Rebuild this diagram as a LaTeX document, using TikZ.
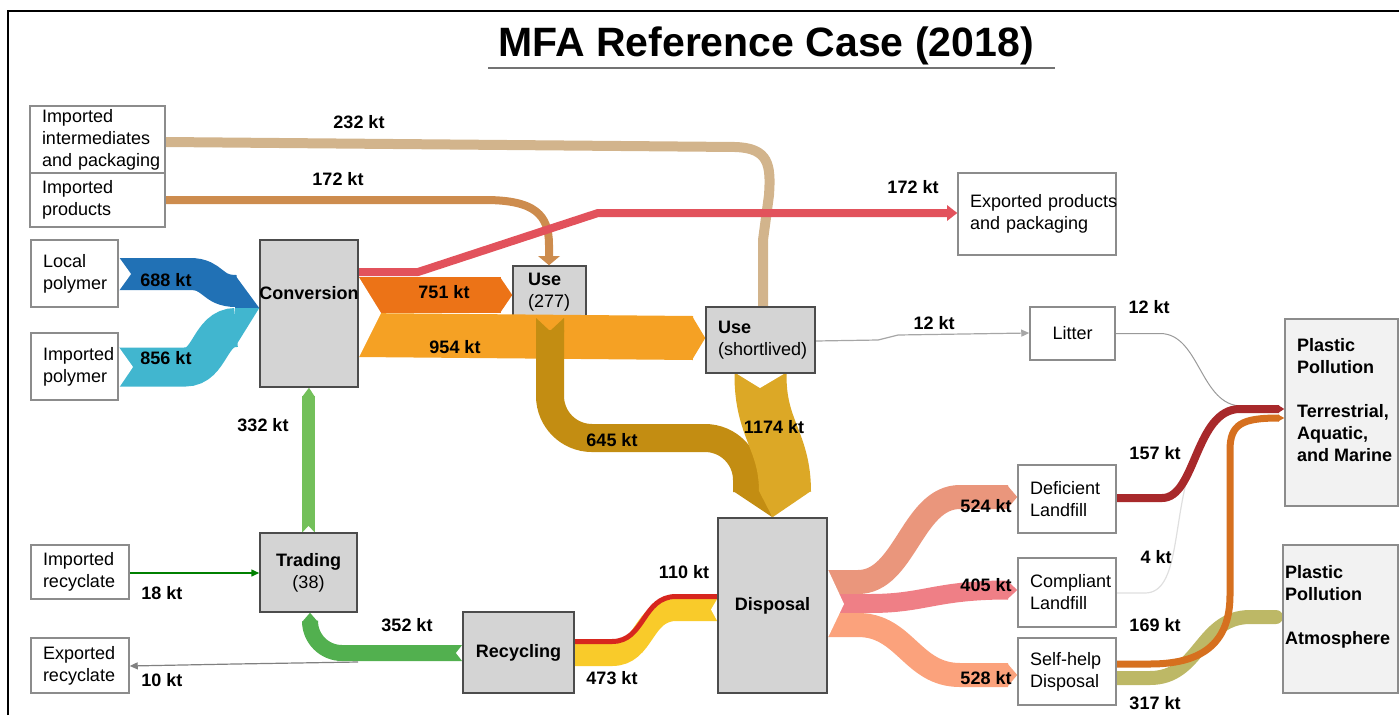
\documentclass[tikz,border=0pt]{standalone}
\usepackage{fontspec}
\setmainfont{Liberation Sans}
\usepackage{xcolor}
\usetikzlibrary{arrows.meta}
\usetikzlibrary{positioning}
\pgfdeclarelayer{bands}
\pgfsetlayers{bands,main}
\definecolor{procgray}{HTML}{D4D4D4}
\definecolor{polyblue}{HTML}{2171B5}
\definecolor{polycyan}{HTML}{41B6CF}
\definecolor{tan232}{HTML}{D2B48C}
\definecolor{peru172}{HTML}{CD8C4E}
\definecolor{red172}{HTML}{E2525C}
\definecolor{orange751}{HTML}{EC7317}
\definecolor{orange954}{HTML}{F5A124}
\definecolor{gold645}{HTML}{C38D12}
\definecolor{gold1174}{HTML}{DCA826}
\definecolor{salm524}{HTML}{EA967C}
\definecolor{pink405}{HTML}{EF7F86}
\definecolor{lsalm528}{HTML}{FBA27C}
\definecolor{yell473}{HTML}{F9CB2A}
\definecolor{red110}{HTML}{D7261E}
\definecolor{green352}{HTML}{52B04F}
\definecolor{green332}{HTML}{73C05A}
\definecolor{dred157}{HTML}{A8292B}
\definecolor{orange169}{HTML}{D6701F}
\definecolor{olive317}{HTML}{BDB866}

\begin{document}
\begin{tikzpicture}[x={(1pt,0)},y={(0,-1pt)},
  wbox/.style={draw=black!45,fill=white,line width=1.5pt,align=left,inner sep=0pt,font=\fontsize{18}{22}\selectfont},
  lbox/.style={wbox,inner xsep=12pt,text width=#1},
  gbox/.style={wbox,draw=black!70,fill=procgray},
  pbox/.style={wbox,fill=black!5},
  ptxt/.style={anchor=north west,inner sep=0pt,align=left,font=\bfseries\fontsize{18}{22}\selectfont},
  kt/.style={font=\bfseries\fontsize{18}{22}\selectfont,inner sep=1pt},
  band/.style={line width=#1pt,line cap=butt}]
\useasboundingbox (0,0) rectangle (1399,715);
\draw[line width=2pt] (8,715) -- (8,11) -- (1399,11);
\node[font=\bfseries\fontsize{41}{48}\selectfont,anchor=base] (title) at (766,56) {MFA Reference Case (2018)};
\draw[black!55,line width=2pt] (488,68) -- (1055,68);

% sources
\node[lbox=111,minimum height=67] (impint) at (97.5,139.5) {Imported\\intermediates\\\mbox{and packaging}};
\node[lbox=111,minimum height=54] (impprod) at (97.5,200) {Imported\\products};
\node[lbox=63,minimum height=67] (locpol) at (74.5,273.5) {Local\\polymer};
\node[lbox=74,minimum height=54] (imprec) at (80,572) {Imported\\recyclate};
\node[lbox=74,minimum height=55] (exprec) at (80,665.5) {Exported\\recyclate};
\node[lbox=63,minimum height=67] (imppol) at (74.5,366.5) {Imported\\polymer};

% processes
\node[gbox,minimum width=98,minimum height=147] (conv) at (309,313.5) {};
\node[font=\bfseries\fontsize{18}{22}\selectfont] (convtxt) at (309,293) {Conversion};
\node[gbox,inner xsep=12pt,text width=85,minimum height=66] (usesl) at (760.5,340) {\textbf{Use}\\(shortlived)};
\node[gbox,minimum width=109,minimum height=175,align=center] (disp) at (772.5,605.5) {\textbf{Disposal}};
\node[gbox,minimum width=97,minimum height=79,align=center] (trad) at (308.5,572.5) {\textbf{Trading}\\(38)};
\node[gbox,minimum width=111,minimum height=81,align=center] (recyc) at (518.5,652.5) {\textbf{Recycling}};

% sinks
\node[lbox=134,minimum height=82] (export) at (1037,214) {\mbox{Exported products}\\and packaging};
\node[wbox,minimum width=85,minimum height=53,align=center] (litter) at (1072.5,333.5) {Litter};
\node[lbox=74,minimum height=68] (defic) at (1067,499) {Deficient\\Landfill};
\node[lbox=74,minimum height=69] (compl) at (1067,592.5) {Compliant\\Landfill};
\node[lbox=74,minimum height=67] (selfh) at (1067,671.5) {Self-help\\Disposal};
\node[pbox,minimum width=113,minimum height=187] (terr) at (1341.5,412.5) {};
\node[ptxt] (terrtxt) at (1297,338) {Plastic\\Pollution\\[22pt]Terrestrial,\\Aquatic,\\and Marine};
\node[pbox,minimum width=115,minimum height=148] (atmo) at (1340.5,619) {};
\node[ptxt] (atmotxt) at (1285,565) {Plastic\\Pollution\\[22pt]Atmosphere};

\begin{pgfonlayer}{bands}
% imports
\draw[band=10,tan232] (impint.east |- 0,142) -- (735,147) .. controls (769,148) and (771,165) .. (769,195) -- (763,240) -- (763,0 |- usesl.north);
\draw[band=8,peru172] (impprod.east |- 0,200) -- (485,200) .. controls (535,200) and (549,215) .. (549,245) -- (549,257);
\draw[band=32,polyblue] (locpol.east |- 0,274) -- (190,274) .. controls (214,274) and (211,291) .. (236,291);
\fill[polyblue] (235,275) -- (conv.west |- 0,308) -- (235,308) -- cycle;
\draw[band=39,polycyan] (imppol.east |- 0,367) -- (185,367) .. controls (211,367) and (209,327.5) .. (236,327.5);
\fill[polycyan] (235,308) -- (conv.west |- 0,308) -- (235,347) -- cycle;
\fill[white] (locpol.east |- 0,257) -- (131,274) -- (locpol.east |- 0,291) -- cycle;
\fill[white] (imppol.east |- 0,347) -- (133,367) -- (imppol.east |- 0,388) -- cycle;

% conversion out
\node[gbox,inner xsep=15pt,text width=43,minimum height=52] (use277) at (549.5,292) {\textbf{Use}\\(277)};
\fill[peru172] (538,256) -- (549,0 |- use277.north) -- (560,256) -- cycle;
\draw[band=8,red172,line join=round] (conv.east |- 0,272) -- (418,272) -- (598,213) -- (948,213);
\fill[red172] (947,205) -- (export.west |- 0,213) -- (947,221) -- cycle;
\draw[band=36,orange751] (conv.east |- 0,295) -- (501,295);
\fill[orange751] (500,277) -- (use277.west |- 0,295) -- (500,313) -- cycle;
\draw[band=44,orange954] (conv.east |- 0,335) -- (693,338);
\fill[orange954] (692,316) -- (usesl.west |- 0,338) -- (692,360) -- cycle;
\fill[white] (conv.east |- 0,277) -- (381,313) -- (conv.east |- 0,357.5) -- cycle;

% use to disposal
\draw[band=28,gold645,rounded corners=42] (550,330) -- (550,438) -- (747,438) -- (747,492);
\fill[gold645] (536,318) -- (550,331) -- (564,318) -- (564,332) -- (536,332) -- cycle;
\draw[band=52,gold1174] (usesl.south) .. controls (760,430) and (785,440) .. (785,492);
\fill[white] (734,372) -- (760,388) -- (787,372) -- cycle;
\fill[gold645] (733,491) -- (disp.north) -- (761,491) -- cycle;
\fill[gold1174] (759,491) -- (disp.north) -- (811,491) -- cycle;
\draw[gray!70,line width=1.2pt,-{Triangle[length=8pt,width=7pt]}] (usesl.east |- 0,341) -- (878,340) -- (898,335) -- (litter.west |- 0,333);

% disposal out
\draw[band=24,salm524] (disp.east |- 0,582) -- (858,582) .. controls (905,582) and (912,497) .. (960,497) -- (1008,497);
\fill[salm524] (1007,485) -- (defic.west |- 0,497) -- (1007,509) -- cycle;
\draw[band=19,pink405] (disp.east |- 0,603.5) -- (870,603.5) .. controls (925,603.5) and (935,590) .. (1008,590);
\fill[pink405] (1007,580.5) -- (compl.west |- 0,590) -- (1007,599.5) -- cycle;
\draw[band=24,lsalm528] (disp.east |- 0,625) -- (858,625) .. controls (905,625) and (912,675) .. (960,675) -- (1008,675);
\fill[lsalm528] (1007,663) -- (selfh.west |- 0,675) -- (1007,687) -- cycle;
\fill[white] (disp.east |- 0,569) -- (844,604) -- (disp.east |- 0,638) -- cycle;

% recycling loop
\draw[band=22,yell473] (recyc.east |- 0,655) -- (612,655) .. controls (645,655) and (642,610) .. (676,610) -- (disp.west |- 0,610);
\draw[band=5,red110] (recyc.east |- 0,641.5) -- (612,641.5) .. controls (645,641.5) and (642,596.5) .. (676,596.5) -- (disp.west |- 0,596.5);
\fill[white] (disp.west |- 0,599) -- (711,609.5) -- (disp.west |- 0,621) -- cycle;
\draw[band=16,green352,rounded corners=32] (recyc.west |- 0,653) -- (310,653) -- (310,621);
\fill[green352] (302,622) -- (310,0 |- trad.south) -- (318,622) -- cycle;
\fill[white] (recyc.west |- 0,645) -- (456,653) -- (recyc.west |- 0,661) -- cycle;
\draw[band=13,green332] (trad.north) -- (308.5,396);
\fill[green332] (302,397) -- (conv.south) -- (315,397) -- cycle;
\fill[white] (302,533) -- (308.5,526) -- (315,533) -- cycle;
\draw[green!50!black,line width=1.5pt,-{Triangle[length=8pt,width=7pt]}] (imprec.east |- 0,573) -- (trad.west |- 0,573);
\coordinate (rsplit) at (358,662);
\draw[gray,line width=1.2pt,-{Triangle[length=8pt,width=7pt]}] (rsplit) -- (235,664) -- (exprec.east |- 0,666);

% to plastic pollution
\draw[gray!80,line width=1pt] (litter.east) -- (1160,333.5) .. controls (1200,333.5) and (1200,406) .. (1242,406);
\draw[gray!25,line width=1.2pt] (compl.east |- 0,593) -- (1145,593) .. controls (1180,593) and (1172,520) .. (1192,462) .. controls (1205,425) and (1220,411) .. (1245,411);
\draw[band=8,dred157] (defic.east |- 0,498) -- (1162,498) .. controls (1196,498) and (1195,409) .. (1240,409) -- (1279,409);
\fill[dred157] (1278,405) -- (terr.west |- 0,409) -- (1278,413) -- cycle;
\draw[band=14,olive317,line cap=round] (selfh.east |- 0,678) -- (1150,678) .. controls (1200,678) and (1200,617) .. (1250,617) -- (1276,617);
\draw[band=7,orange169] (selfh.east |- 0,664) -- (1150,664) .. controls (1200,664) and (1230,645) .. (1230,595) -- (1230,450) .. controls (1230,424) and (1242,418) .. (1279,418);
\fill[orange169] (1278,414.5) -- (terr.west |- 0,418) -- (1278,421.5) -- cycle;
\end{pgfonlayer}

% flow labels
\node[kt] (l232) at (359,122) {232 kt};
\node[kt] (l172a) at (338,179) {172 kt};
\node[kt] (l172b) at (913,187) {172 kt};
\node[kt] (l688) at (166,280) {688 kt};
\node[kt] (l856) at (166,358) {856 kt};
\node[kt] (l751) at (444,292) {751 kt};
\node[kt] (l954) at (455,347) {954 kt};
\node[kt] (l645) at (612,440) {645 kt};
\node[kt] (l1174) at (774,427) {1174 kt};
\node[kt] (l12a) at (934,323) {12 kt};
\node[kt] (l12b) at (1149,307) {12 kt};
\node[kt] (l332) at (263,425) {332 kt};
\node[kt] (l18) at (162,593) {18 kt};
\node[kt] (l10) at (162,680) {10 kt};
\node[kt] (l352) at (407,625) {352 kt};
\node[kt] (l110) at (684,572) {110 kt};
\node[kt] (l473) at (612,678) {473 kt};
\node[kt] (l524) at (986,506) {524 kt};
\node[kt] (l405) at (986,585) {405 kt};
\node[kt] (l528) at (986,678) {528 kt};
\node[kt] (l157) at (1155,453) {157 kt};
\node[kt] (l4) at (1156,557) {4 kt};
\node[kt] (l169) at (1155,625) {169 kt};
\node[kt] (l317) at (1155,703) {317 kt};
\end{tikzpicture}
\end{document}
